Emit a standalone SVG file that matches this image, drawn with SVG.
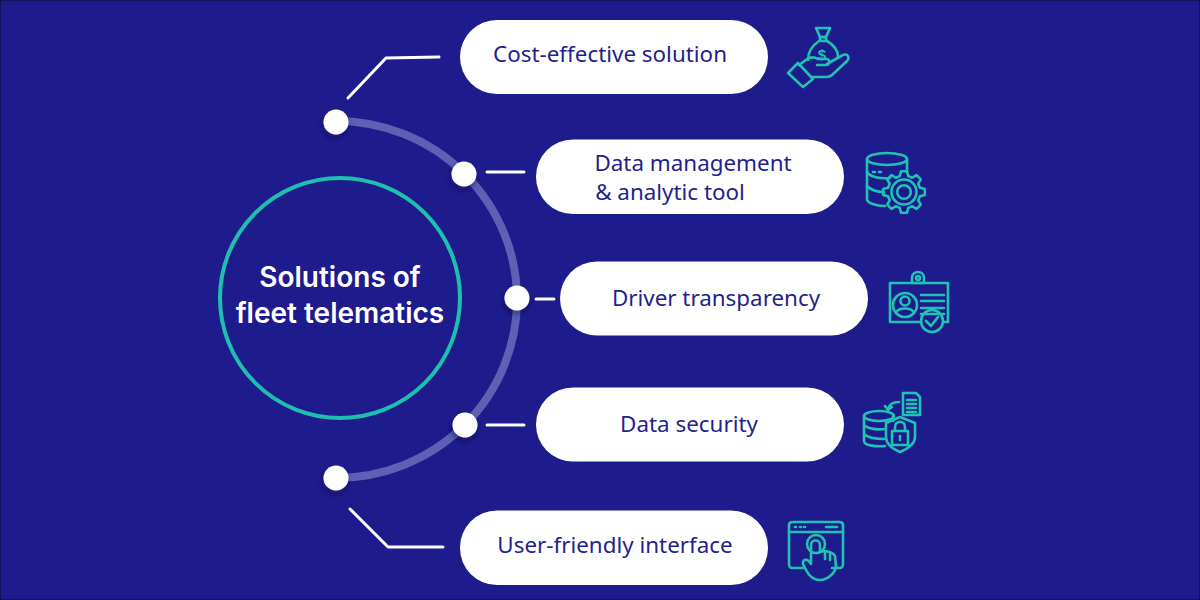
<svg xmlns="http://www.w3.org/2000/svg" width="1200" height="600" viewBox="0 0 1200 600">
<defs>
<filter id="sh" x="-50%" y="-50%" width="200%" height="200%"><feDropShadow dx="-1" dy="3" stdDeviation="3" flood-color="#0c0b50" flood-opacity="0.6"/></filter>
</defs>
<style>
.pill{fill:#fff}
.lbl{font-family:"Noto Sans","Open Sans",sans-serif;font-size:22.400px;fill:#241f8a;text-anchor:middle}
.head{font-family:Inter,"Liberation Sans",sans-serif;font-size:28px;font-weight:600;fill:#fff;text-anchor:middle}
.dot{fill:#fff;filter:url(#sh)}
.wire{fill:none;stroke:#fff;stroke-width:3;stroke-linecap:round;stroke-linejoin:round}
.ic{fill:none;stroke:#20c2b4;stroke-width:2.600;stroke-linecap:round;stroke-linejoin:round}
</style>
<rect width="1200" height="600" fill="#1e1b8c"/>
<rect x="0.5" y="0.5" width="1199" height="599" fill="none" stroke="#14135e"/>
<g id="connectors">
<path d="M336 121A181 178.500 0 0 1 336 478" fill="none" stroke="#5d60b4" stroke-width="8"/>
<path class="wire" d="M348 98L386 58L439 57"/>
<path class="wire" d="M487 172H524"/>
<path class="wire" d="M536 299H554"/>
<path class="wire" d="M487 425H524"/>
<path class="wire" d="M350 509L388 547H443"/>
<circle class="dot" cx="336" cy="122" r="12.500"/>
<circle class="dot" cx="464" cy="174" r="12.500"/>
<circle class="dot" cx="517" cy="298" r="12.500"/>
<circle class="dot" cx="465" cy="425" r="12.500"/>
<circle class="dot" cx="336" cy="478" r="12.500"/>
</g>
<g id="center">
<circle cx="340" cy="298" r="120" fill="none" stroke="#1fbfb0" stroke-width="4"/>
<text class="head" x="340" y="287">Solutions of</text>
<text class="head" x="340" y="323">fleet telematics</text>
</g>
<g id="n1">
<rect class="pill" x="460" y="20" width="308" height="74" rx="37"/>
<text class="lbl" x="610" y="62">Cost-effective solution</text>
<g class="ic">
<path d="M816 28H830L826 37H820Z"/><path d="M820 37H826V41H820Z"/>
<path d="M819 41C813 45 808 51 808 60M827 41C834 45 838 51 838 57"/>
<path d="M788 73L803 87L813 79L798 63Z"/>
<path d="M799 65L806 60C810 56 814 57 818 59H827C830 59 830 65 826 65H817"/>
<path d="M827 64L843 55C848 53 850 58 847 61L832 75C830 77 828 77 826 77H811"/>
</g>
<text x="822" y="60" font-family="Liberation Sans,sans-serif" font-size="15" font-weight="700" fill="#20c2b4" text-anchor="middle">$</text>
</g>
<g id="n2">
<rect class="pill" x="536" y="139.500" width="308" height="74.500" rx="37"/>
<text class="lbl" x="693" y="171">Data management</text>
<text class="lbl" x="670" y="200">&amp; analytic tool</text>
<g class="ic">
<ellipse cx="887" cy="159" rx="20" ry="6"/>
<path d="M867 159V199C867 203 876 206 885 206M907 159V172"/>
<path d="M867 172C870 177 880 179 890 178M867 186C871 190 878 192 884 192"/>
<path d="M873 172H875M879 172H881"/>
<g transform="translate(904 192)">
<circle r="12.500"/><circle r="6.800"/>
<polygon points="15.900,-4.300 20.800,-2.900 20.800,2.900 15.900,4.300 14.300,8.250 16.800,12.600 12.600,16.800 8.250,14.300 4.300,15.900 2.900,20.800 -2.900,20.800 -4.300,15.900 -8.250,14.300 -12.600,16.800 -16.800,12.600 -14.300,8.250 -15.900,4.300 -20.800,2.900 -20.800,-2.900 -15.900,-4.300 -14.300,-8.250 -16.800,-12.600 -12.600,-16.800 -8.250,-14.300 -4.300,-15.900 -2.900,-20.800 2.900,-20.800 4.300,-15.900 8.250,-14.300 12.600,-16.800 16.800,-12.600 14.300,-8.250"/>
</g>
</g>
</g>
<g id="n3">
<rect class="pill" x="560" y="261.500" width="308" height="74" rx="37"/>
<text class="lbl" x="716" y="306">Driver transparency</text>
<g class="ic">
<path d="M921 322H890V283H948V322H944"/>
<path d="M912 283V278C912 270 924 270 924 278V283Z"/>
<circle cx="918" cy="278" r="2"/>
<circle cx="905" cy="305" r="12"/><circle cx="905" cy="301" r="4.500"/>
<path d="M896 313C898 307 912 307 914 313"/>
<path d="M921 295H944M921 301H944M921 308H944M921 314H944"/>
<circle cx="932" cy="321" r="11"/><path d="M926 321L931 326L938 317"/>
</g>
</g>
<g id="n4">
<rect class="pill" x="536" y="387.500" width="308" height="74" rx="37"/>
<text class="lbl" x="689" y="432">Data security</text>
<g class="ic">
<ellipse cx="879" cy="416" rx="15" ry="5"/>
<path d="M864 416V441C864 445 874 447 885 446M893 416V421M864 425C868 429 878 430 885 429M864 434C868 438 876 439 884 439"/>
<path d="M903 393H916L920 397V415H903Z"/>
<path d="M907 400H916M907 404H916M907 408H916M907 412H916"/>
<path d="M899 402C893 402 889 405 888 409M885 406L888 410L892 407"/>
<path d="M900 417L915 423V437C915 444 907 449 900 452C893 449 886 444 886 437V423Z"/>
<rect x="892" y="431" width="16" height="14"/>
<path d="M895 431V427C895 420 905 420 905 427V431"/>
<path d="M900 436V440"/>
</g>
</g>
<g id="n5">
<rect class="pill" x="460" y="510.500" width="308" height="74.500" rx="37"/>
<text class="lbl" x="615" y="553">User-friendly interface</text>
<g class="ic">
<path d="M803 568H793C790 568 789 567 789 564V525C789 523 790 522 793 522H839C842 522 843 523 843 525V564C843 567 842 568 839 568H832"/>
<path d="M789 532H843"/>
<path d="M795 527H796M800 527H801M804 527H805M826 527H837"/>
<circle cx="816" cy="544" r="9"/>
<path d="M811 564V545C811 539 820 539 820 545V552C825 550 833 552 835 556L836 566C836 572 828 580 820 580C813 580 809 576 806 570L803 564C802 560 807 557 811 564"/>
<path d="M825 553V559M830 554V560"/>
</g>
</g>
</svg>
